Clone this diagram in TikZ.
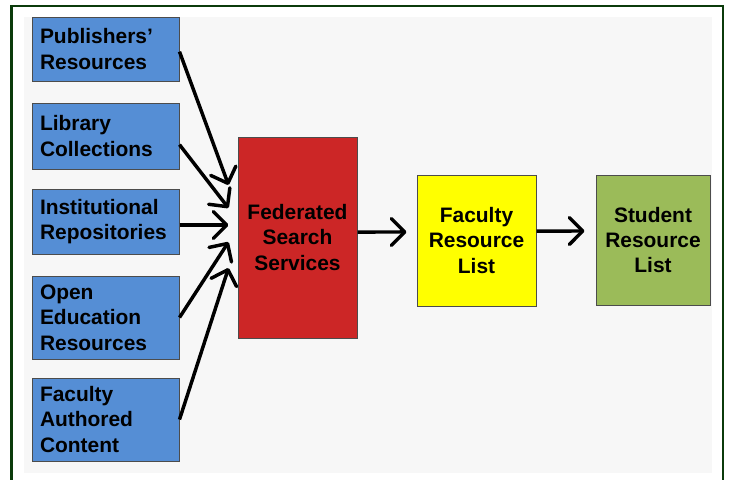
\documentclass[tikz,border=0pt]{standalone}
\usepackage{fontspec}
\setmainfont{Liberation Sans}
\usepackage{tikz}
\usepackage{xcolor}
\usetikzlibrary{arrows.meta}

\definecolor{framegreen}{HTML}{0B3B0B}
\definecolor{panelgray}{HTML}{F7F7F7}
\definecolor{srcblue}{HTML}{558ED5}
\definecolor{fedred}{HTML}{CC2626}
\definecolor{listyellow}{HTML}{FFFF00}
\definecolor{listgreen}{HTML}{9BBB59}

\begin{document}
\begin{tikzpicture}[x=0.75pt, y=-0.75pt,
        box/.style={draw=black!70, line width=0.75pt, inner sep=0pt,
            font=\fontsize{15.7}{19}\selectfont\bfseries},
        source/.style={box, fill=srcblue, text width=98.25pt, inner xsep=6pt, align=left},
        stage/.style={box, align=center},
        link/.style={line width=2.6pt, -{Straight Barb[round, scale=1.5]}}]
        \useasboundingbox[fill=white] (0,0) rectangle (730,479);
        \draw[framegreen, line width=1.9pt] (11.5,6) rectangle (723,495);
        \fill[panelgray] (24,17) rectangle (712,473);

        \node[source, minimum height=48pt] (pub) at (105.5,49) {Publishers'\\Resources};
        \node[source, minimum height=49.5pt] (lib) at (105.5,136) {Library\\Collections};
        \node[source, minimum height=48.75pt] (inst) at (105.5,221.5) {Institutional\\Repositories};
        \node[source, minimum height=62.25pt] (oer) at (105.5,317.5) {Open\\Education\\Resources};
        \node[source, minimum height=62.25pt] (auth) at (105.5,419.5) {Faculty\\Authored\\Content};

        \node[stage, fill=fedred, minimum width=89.25pt, minimum height=150.75pt] (fed) at (297.5,237.5) {Federated\\Search\\Services};
        \node[stage, fill=listyellow, minimum width=89.25pt, minimum height=98.25pt] (fac) at (476.5,240.5) {Faculty\\Resource\\List};
        \node[stage, fill=listgreen, minimum width=85.5pt, minimum height=97.5pt] (stu) at (653,240) {Student\\Resource\\List};

        \draw[link] ([yshift=-2pt]pub.east) -- ([xshift=-6.75pt,yshift=39.4pt]fed.west);
        \draw[link] ([yshift=-6.5pt]lib.east) -- ([xshift=-6.75pt,yshift=22.1pt]fed.west);
        \draw[link] ([yshift=-2.6pt]inst.east) -- ([xshift=-6.75pt,yshift=9.4pt]fed.west);
        \draw[link] (oer.east) -- ([xshift=-6.75pt,yshift=-3.4pt]fed.west);
        \draw[link] (auth.east) -- ([xshift=-6.75pt,yshift=-22.9pt]fed.west);
        \draw[link] ([yshift=4.1pt]fed.east) -- ([xshift=-7.5pt,yshift=6.4pt]fac.west);
        \draw[link] ([yshift=7.1pt]fac.east) -- ([xshift=-8.25pt,yshift=6.75pt]stu.west);
    \end{tikzpicture}
\end{document}
